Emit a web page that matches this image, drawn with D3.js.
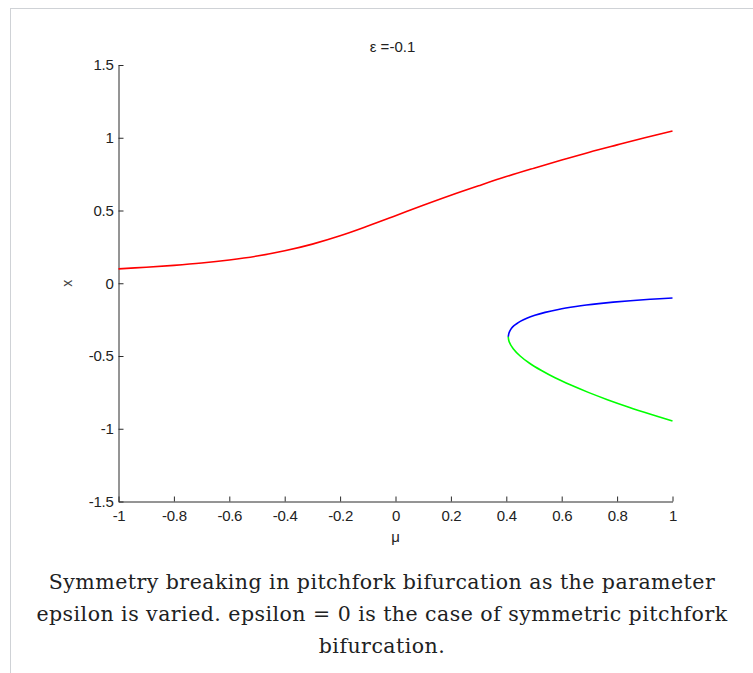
<!DOCTYPE html>
<html>
<head>
<meta charset="utf-8">
<script src="https://cdn.jsdelivr.net/npm/d3@7"></script>
<style>
  body { margin: 0; background: #fff; }
  svg { display: block; }
</style>
</head>
<body>
<script>
'use strict';

// stable branch (upper)
const muRed = [-1, -0.9, -0.8, -0.7, -0.6, -0.5, -0.4, -0.3, -0.2, -0.1, 0,
  0.1, 0.2, 0.3, 0.4, 0.5, 0.6, 0.7, 0.8, 0.9, 1];
const xRed = [0.099, 0.110, 0.123, 0.139, 0.160, 0.187, 0.223, 0.269, 0.326, 0.393, 0.464,
  0.536, 0.605, 0.670, 0.733, 0.791, 0.847, 0.901, 0.951, 1.0, 1.047];

// unstable branch (middle)
const muBlue = [0.407, 0.410, 0.415, 0.423, 0.436, 0.452, 0.474, 0.503, 0.540,
  0.588, 0.651, 0.689, 0.734, 0.786, 0.848, 0.921, 1.0];
const xBlue = [-0.368, -0.34, -0.32, -0.30, -0.28, -0.26, -0.24, -0.22, -0.20,
  -0.18, -0.16, -0.15, -0.14, -0.13, -0.12, -0.11, -0.101];

// stable branch (lower)
const muGreen = [0.407, 0.410, 0.425, 0.450, 0.484, 0.527, 0.576, 0.633, 0.696,
  0.765, 0.840, 0.921, 1.0];
const xGreen = [-0.368, -0.40, -0.45, -0.50, -0.55, -0.60, -0.65, -0.70, -0.75,
  -0.80, -0.85, -0.90, -0.946];

const xTicks = [-1, -0.8, -0.6, -0.4, -0.2, 0, 0.2, 0.4, 0.6, 0.8, 1];
const yTicks = [-1.5, -1, -0.5, 0, 0.5, 1, 1.5];

const titleText = 'ε =-0.1';
const xLabel = 'μ';
const yLabel = 'x';
const caption = [
  'Symmetry breaking in pitchfork bifurcation as the parameter',
  'epsilon is varied. epsilon = 0 is the case of symmetric pitchfork',
  'bifurcation.'
];

const W = 753, H = 673;
const plot = { left: 118.5, right: 672.5, top: 65, bottom: 501.5 };

const svg = d3.select('body').append('svg')
  .attr('width', W)
  .attr('height', H);

// thumbnail frame
svg.append('line')
  .attr('x1', 10).attr('x2', W).attr('y1', 8.5).attr('y2', 8.5)
  .attr('stroke', '#cfd2d6');
svg.append('line')
  .attr('x1', 10.5).attr('x2', 10.5).attr('y1', 8).attr('y2', H)
  .attr('stroke', '#cfd2d6');

const xScale = d3.scaleLinear().domain([-1, 1]).range([plot.left, plot.right]);
const yScale = d3.scaleLinear().domain([-1.5, 1.5]).range([plot.bottom, plot.top]);

const tickFont = '"Liberation Sans", Arial, sans-serif';

// x axis, ticks pointing inward
const gx = svg.append('g')
  .attr('transform', 'translate(0,' + plot.bottom + ')')
  .call(d3.axisBottom(xScale)
    .tickValues(xTicks)
    .tickFormat(d => String(d))
    .tickSizeInner(-5)
    .tickSizeOuter(0)
    .tickPadding(9));

// y axis, ticks pointing inward
const gy = svg.append('g')
  .attr('transform', 'translate(' + plot.left + ',0)')
  .call(d3.axisLeft(yScale)
    .tickValues(yTicks)
    .tickFormat(d => String(d))
    .tickSizeInner(-5)
    .tickSizeOuter(0)
    .tickPadding(5));

[gx, gy].forEach(g => {
  g.select('.domain').attr('stroke', '#2b2b2b');
  g.selectAll('.tick line').attr('stroke', '#2b2b2b');
  g.selectAll('.tick text')
    .attr('fill', '#222')
    .style('font-family', tickFont)
    .style('font-size', '15px')
    .style('letter-spacing', '-0.3px');
});

// curves
const line = d3.line()
  .x(d => xScale(d[0]))
  .y(d => yScale(d[1]))
  .curve(d3.curveCatmullRom);

const series = [
  { mu: muRed, x: xRed, color: '#ff0000' },
  { mu: muBlue, x: xBlue, color: '#0000ff' },
  { mu: muGreen, x: xGreen, color: '#00ff00' }
];

series.forEach(s => {
  svg.append('path')
    .datum(s.mu.map((m, i) => [m, s.x[i]]))
    .attr('fill', 'none')
    .attr('stroke', s.color)
    .attr('stroke-width', 1.6)
    .attr('d', line);
});

// title and axis labels
svg.append('text')
  .attr('x', (plot.left + plot.right) / 2 - 3)
  .attr('y', 52)
  .attr('text-anchor', 'middle')
  .style('font-family', tickFont)
  .style('font-size', '15px')
  .attr('fill', '#222')
  .text(titleText);

svg.append('text')
  .attr('x', (plot.left + plot.right) / 2)
  .attr('y', 542)
  .attr('text-anchor', 'middle')
  .style('font-family', tickFont)
  .style('font-size', '15px')
  .attr('fill', '#222')
  .text(xLabel);

svg.append('text')
  .attr('transform', 'translate(72,' + yScale(0) + ') rotate(-90)')
  .attr('text-anchor', 'middle')
  .style('font-family', tickFont)
  .style('font-size', '14px')
  .attr('fill', '#444')
  .text(yLabel);

// caption
svg.append('g')
  .selectAll('text')
  .data(caption)
  .enter()
  .append('text')
    .attr('x', 382)
    .attr('y', (d, i) => 589 + i * 32)
    .attr('text-anchor', 'middle')
    .style('font-family', '"DejaVu Serif", serif')
    .style('font-size', '20.5px')
    .style('letter-spacing', '0.47px')
    .attr('fill', '#202122')
    .text(d => d);
</script>
</body>
</html>
